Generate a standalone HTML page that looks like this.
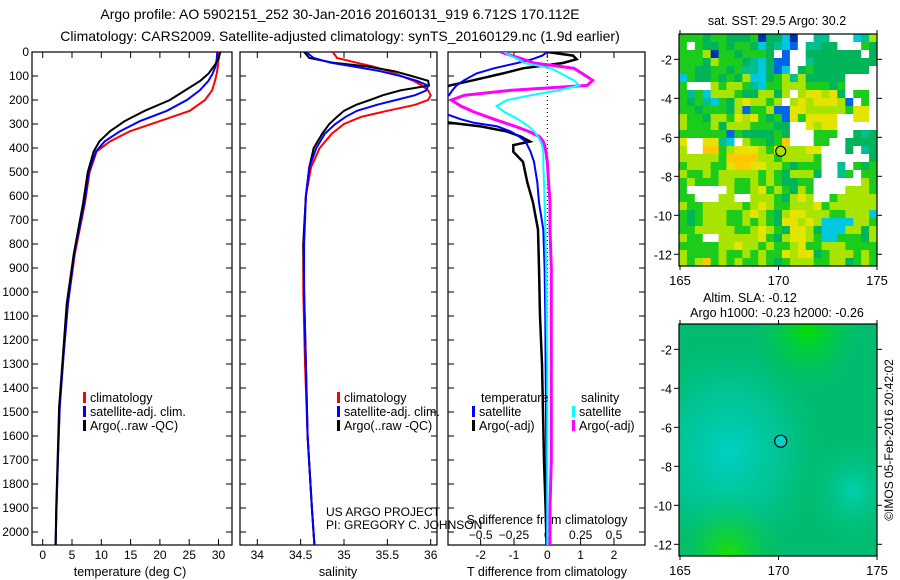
<!DOCTYPE html>
<html><head><meta charset="utf-8"><style>
html,body{margin:0;padding:0;background:#fff;}
svg{display:block;font-family:"Liberation Sans",sans-serif;}
text{fill:#000;}
</style></head><body>
<svg id="fig" width="900" height="580" viewBox="0 0 900 580" xmlns="http://www.w3.org/2000/svg">
<defs>
<clipPath id="c1"><rect x="32" y="52" width="200" height="493"/></clipPath>
<clipPath id="c2"><rect x="240" y="52" width="197" height="493"/></clipPath>
<clipPath id="c3"><rect x="448" y="52" width="197" height="493"/></clipPath>
<radialGradient id="gA" cx="0.25" cy="0.55" r="0.5"><stop offset="0" stop-color="#00d0c4"/><stop offset="0.6" stop-color="#00c8a0" stop-opacity="0.6"/><stop offset="1" stop-color="#00c070" stop-opacity="0"/></radialGradient>
<radialGradient id="gB" cx="0.88" cy="0.72" r="0.25"><stop offset="0" stop-color="#00d0b0"/><stop offset="1" stop-color="#00c070" stop-opacity="0"/></radialGradient>
<radialGradient id="gC" cx="0.65" cy="0.02" r="0.3"><stop offset="0" stop-color="#00e000"/><stop offset="1" stop-color="#00c070" stop-opacity="0"/></radialGradient>
<radialGradient id="gD" cx="0.25" cy="1" r="0.3"><stop offset="0" stop-color="#20e000"/><stop offset="1" stop-color="#00c070" stop-opacity="0"/></radialGradient>
</defs>
<text x="340" y="19" font-size="14" text-anchor="middle">Argo profile: AO 5902151_252 30-Jan-2016 20160131_919 6.712S 170.112E</text>
<text x="340" y="41" font-size="14" text-anchor="middle">Climatology: CARS2009. Satellite-adjusted climatology: synTS_20160129.nc (1.9d earlier)</text>
<g id="g1"></g>
<g id="g2"></g>
<g id="g3"></g>
<g id="m1"></g>
<g id="m2"></g>
<text transform="translate(893,440) rotate(-90)" font-size="12" text-anchor="middle">©IMOS 05-Feb-2016 20:42:02</text>
</svg>
<script>
const NS="http://www.w3.org/2000/svg";
// ---- data ----
const tDepth=[0,30,60,90,120,160,200,245,288,330,372,414,500,630,840,1050,1250,1480,1700,1900,2060];
const tempClim=[30.1,30.0,29.9,29.7,29.4,28.9,27.7,25.1,20.0,14.9,11.5,9.2,8.0,7.2,5.5,4.3,3.6,2.9,2.6,2.35,2.2];
const tempSat=[29.8,29.7,29.5,29.0,28.3,26.8,24.6,21.2,16.6,13.2,10.6,9.1,7.9,7.1,5.4,4.3,3.6,2.9,2.6,2.35,2.2];
const tempArgo=[30.3,30.0,29.2,28.3,26.9,24.3,21.7,17.4,14.0,11.5,9.7,8.7,7.7,6.9,5.3,4.1,3.5,2.8,2.55,2.3,2.2];
const sDepth=[0,25,45,60,80,100,120,140,160,180,200,220,245,270,300,340,400,480,600,800,1000,1300,1600,1900,2060];
const salClim=[34.87,34.92,35.15,35.33,35.52,35.66,35.8,35.9,35.97,36.0,35.97,35.82,35.5,35.2,35.0,34.86,34.72,34.62,34.56,34.53,34.53,34.55,34.58,34.63,34.66];
const salArgo=[34.54,34.6,34.88,35.26,35.58,35.78,35.97,35.98,35.65,35.45,35.3,35.14,35.0,34.92,34.83,34.75,34.65,34.6,34.56,34.53,34.54,34.56,34.58,34.63,34.66];
const salSat=[34.56,34.65,34.85,35.1,35.42,35.65,35.84,35.97,35.95,35.82,35.6,35.38,35.15,35.02,34.9,34.78,34.68,34.6,34.56,34.54,34.54,34.56,34.58,34.63,34.66];
const dDepth=[0,15,30,46,68,89,118,139,160,180,200,225,250,280,295,310,331,352,373,388,416,458,543,627,740,900,1100,1300,1500,1700,1900,2060];
const dTempArgo=[0,0.77,0.88,0.47,-0.73,-1.33,-2.23,-2.92,-3.3,-3.3,-3.3,-3.3,-3.3,-3.3,-2.92,-2.0,-1.22,-0.8,-0.52,-1.02,-1.02,-0.73,-0.6,-0.43,-0.28,-0.25,-0.22,-0.16,-0.13,-0.1,-0.05,-0.02];
const dTempSat=[0,-0.15,-0.45,-0.9,-1.6,-2.12,-2.5,-2.72,-2.85,-2.95,-3.2,-3.2,-3.2,-2.6,-2.2,-1.5,-1.1,-0.85,-0.65,-0.6,-0.5,-0.4,-0.3,-0.25,-0.12,-0.08,-0.06,-0.05,-0.04,-0.03,-0.02,0];
const dSalArgo=[-0.35,-0.27,-0.18,-0.1,0.2,0.26,0.34,0.3,-0.28,-0.62,-0.72,-0.65,-0.55,-0.4,-0.32,-0.24,-0.14,-0.06,-0.03,-0.02,-0.01,0,0.01,0.02,0.02,0.03,0.03,0.03,0.03,0.03,0.02,0.02];
const dSalSat=[-0.32,-0.28,-0.22,-0.17,0.03,0.1,0.2,0.24,0.08,-0.12,-0.3,-0.38,-0.32,-0.22,-0.18,-0.14,-0.1,-0.07,-0.05,-0.04,-0.03,-0.03,-0.025,-0.02,-0.015,-0.01,-0.005,0,0,0,0,0];
const depthTicks=[0,100,200,300,400,500,600,700,800,900,1000,1100,1200,1300,1400,1500,1600,1700,1800,1900,2000];
const tempTicks=[0,5,10,15,20,25,30];
const salTicks=[34,34.5,35,35.5,36];
const salTickLabels=["34","34.5","35","35.5","36"];
const dTTicks=[-2,-1,0,1,2];
const dSTicks=[-0.5,-0.25,0,0.25,0.5];
const dSTickLabels=["−0.5","−0.25","0","0.25","0.5"];
const latTicks=[-2,-4,-6,-8,-10,-12];
const lonTicks=[165,170,175];
const floatLon=170.112, floatLat=-6.712;
const sstRows=[
"gggdggdddgnddcnwwttwwwctl","gwgddgdggdcdtcbwttddwwwgd","ggglnggdgggdwbwwdddddddwd","gggdlgggdtcdbbwwtdddddddd",
"ggddggdgttcdbcwdgdddddddw","cgddgdgdlccdgltldddddwwww","gwwwlgllgtcgglllgggdgwwww","gtgclllgddlldlwlyylydwggw",
"gdgtcgdlyllglwlylyyylbwgw","ggdgggdlbgglbbyylllllgyyw","lggdllgylygdgbygyyyywwyyw","lgggldlllgggddwwylyywwwww",
"ggggggbgddddgdwwwgggwwdtd","ywwyytcwlggdgowwwggwwdddd","lwwooglyyylgylllyywwwdwtd","lllllgoooollgllllgwwwwwwd",
"glllggyooyyllgdgggwwtwgdg","lgglglllllglgdllldwwtgwgg","glgggllgglglgddggwwwwwwlg","gwwwwwlgglyglgdlgwwwwlllg",
"ggwwwllwwlllgdlylwwglllll","lgglllllglylgglllygllllll","gdglllgglylgdlyylllgglllc","gdglllgglglgdyylylccccllg",
"gglllllgglylgdyyldccclldl","lggwwlllllygdlyylgccgggdl","gggggllyllglgglygglllgggg","lgggglgglglggylyydglllglg",
"lgloglglgglgdglllgglldglg"];
const sstColors={g:"#1ccc1c",d:"#00b45a",l:"#a8e400",y:"#e4e400",o:"#ffc800",t:"#00c090",c:"#00c8e0",b:"#0064e6",n:"#0030b4",w:"#ffffff"};
// ---- helpers ----
function el(tag,attrs,parent){const e=document.createElementNS(NS,tag);for(const k in attrs)e.setAttribute(k,attrs[k]);parent.appendChild(e);return e;}
function txt(s,attrs,parent){const e=el("text",attrs,parent);e.textContent=s;return e;}
const Y0=52, DY=0.24;
const yD=d=>Y0+d*DY;
const xT=v=>42.7+v*5.86;
const xS=v=>257.3+(v-34)*86.7;
const xDT=v=>547.3+v*33.33;
const xDS=v=>547.3+v*133.3;
function line(g,xs,ys,xf,col,w,name,clip){
  const p=xs.map((v,i)=>(i?"L":"M")+xf(v).toFixed(1)+" "+yD(ys[i]).toFixed(1)).join(" ");
  const e=el("path",{d:p,fill:"none",stroke:col,"stroke-width":w,"clip-path":"url(#"+clip+")"},g);
  
  
}
function frame(g,x0,x1,name){
  const r=el("rect",{x:x0,y:Y0,width:x1-x0,height:493,fill:"none",stroke:"#000","stroke-width":1.2},g);
  
  
  depthTicks.forEach(d=>{el("line",{x1:x0,x2:x0+6,y1:yD(d),y2:yD(d),stroke:"#000"},g);el("line",{x1:x1-6,x2:x1,y1:yD(d),y2:yD(d),stroke:"#000"},g);});
}
function xticks(g,vals,labels,xf,ylab){
  vals.forEach((v,i)=>{el("line",{x1:xf(v),x2:xf(v),y1:545,y2:539,stroke:"#000"},g);el("line",{x1:xf(v),x2:xf(v),y1:Y0,y2:Y0+6,stroke:"#000"},g);
    const t=txt(labels[i],{x:xf(v),y:ylab,"font-size":12,"text-anchor":"middle"},g);
    
    });
}
function legend(g,x,y,items){
  items.forEach((it,i)=>{el("rect",{x:x,y:y+i*14-6,width:3,height:11,fill:it[1]},g);
    const t=txt(it[0],{x:x+7,y:y+i*14+4,"font-size":12.5},g);
    
    });
}
// ---- panel 1 ----
const g1=document.getElementById("g1");
frame(g1,32,232,"temperature-axes");
depthTicks.forEach(d=>{const t=txt(String(d),{x:29,y:yD(d)+4,"font-size":12,"text-anchor":"end"},g1);
  
  });
xticks(g1,tempTicks,tempTicks.map(String),xT,559);
txt("temperature (deg C)",{x:130,y:576,"font-size":12.5,"text-anchor":"middle",},g1);
line(g1,tempClim,tDepth,xT,"#ff0000",2,"temp-climatology","c1");
line(g1,tempSat,tDepth,xT,"#0000ff",2,"temp-satellite","c1");
line(g1,tempArgo,tDepth,xT,"#000000",2,"temp-argo","c1");
legend(g1,83,398,[["climatology","#ff0000"],["satellite-adj. clim.","#0000ff"],["Argo(..raw -QC)","#000"]]);
// ---- panel 2 ----
const g2=document.getElementById("g2");
frame(g2,240,437,"salinity-axes");
xticks(g2,salTicks,salTickLabels,xS,559);
txt("salinity",{x:338,y:576,"font-size":12.5,"text-anchor":"middle",},g2);
line(g2,salClim,sDepth,xS,"#ff0000",2,"sal-climatology","c2");
line(g2,salArgo,sDepth,xS,"#000000",2,"sal-argo","c2");
line(g2,salSat,sDepth,xS,"#0000ff",2,"sal-satellite","c2");
legend(g2,337,398,[["climatology","#ff0000"],["satellite-adj. clim.","#0000ff"],["Argo(..raw -QC)","#000"]]);
txt("US ARGO PROJECT",{x:326,y:516,"font-size":12,},g2);
txt("PI: GREGORY C. JOHNSON",{x:326,y:529,"font-size":12,},g2);
// ---- panel 3 ----
const g3=document.getElementById("g3");
frame(g3,448,645,"difference-axes");
xticks(g3,dTTicks,dTTicks.map(String),xDT,559);
dSTicks.forEach((v,i)=>{const t=txt(dSTickLabels[i],{x:xDS(v),y:539,"font-size":12,"text-anchor":"middle"},g3);
  
  });
txt("S difference from climatology",{x:547,y:524,"font-size":12.5,"text-anchor":"middle",},g3);
txt("T difference from climatology",{x:547,y:576,"font-size":12.5,"text-anchor":"middle",},g3);
el("line",{x1:xDT(0),x2:xDT(0),y1:Y0,y2:545,stroke:"#000","stroke-dasharray":"1 3",},g3);
line(g3,dTempArgo,dDepth,xDT,"#000000",2.5,"tdiff-argo","c3");
line(g3,dTempSat,dDepth,xDT,"#0000ff",2,"tdiff-satellite","c3");
line(g3,dSalArgo,dDepth,xDS,"#ff00ff",3,"sdiff-argo","c3");
line(g3,dSalSat,dDepth,xDS,"#00ffff",2,"sdiff-satellite","c3");
txt("temperature",{x:481,y:402,"font-size":12.5,},g3);
txt("salinity",{x:581,y:402,"font-size":12.5,},g3);
legend(g3,472,412,[["satellite","#0000ff"],["Argo(-adj)","#000"]]);
legend(g3,572,412,[["satellite","#00ffff"],["Argo(-adj)","#ff00ff"]]);
// ---- maps ----
function mapAxes(g,top,bot,latTop,latBot){
  const xL=v=>680+(v-165)*19.7;
  const yL=v=>top+(latTop-v)*(bot-top)/(latTop-latBot);
  const r=el("rect",{x:679,y:top,width:198,height:bot-top,fill:"none",stroke:"#000","stroke-width":1.2},g);
  
  
  latTicks.forEach(v=>{el("line",{x1:674,x2:679,y1:yL(v),y2:yL(v),stroke:"#000"},g);el("line",{x1:877,x2:882,y1:yL(v),y2:yL(v),stroke:"#000"},g);
    const t=txt(String(v),{x:672,y:yL(v)+5,"font-size":12.5,"text-anchor":"end"},g);
    
    });
  lonTicks.forEach(v=>{el("line",{x1:xL(v),x2:xL(v),y1:bot,y2:bot+4,stroke:"#000"},g);el("line",{x1:xL(v),x2:xL(v),y1:top-4,y2:top,stroke:"#000"},g);
    const t=txt(String(v),{x:xL(v),y:bot+19,"font-size":13,"text-anchor":"middle"},g);
    
    });
  return [xL,yL];
}
const m1=document.getElementById("m1");
const nR=sstRows.length, nC=sstRows[0].length;
const cw=198/nC, ch=232/nR;
sstRows.forEach((row,i)=>{for(let j=0;j<nC;j++){
  const c=el("rect",{x:(679+j*cw).toFixed(2),y:(34+i*ch).toFixed(2),width:(cw+0.4).toFixed(2),height:(ch+0.4).toFixed(2),fill:sstColors[row[j]]},m1);
  
  }});
const a1=mapAxes(m1,34,266,-0.7,-12.6);
txt("sat. SST: 29.5 Argo: 30.2",{x:777,y:25,"font-size":12.5,"text-anchor":"middle",},m1);
el("circle",{cx:a1[0](floatLon),cy:a1[1](floatLat),r:5,fill:"#a8e400",stroke:"#000","stroke-width":1.2,},m1);
const m2=document.getElementById("m2");
el("rect",{x:679,y:324,width:198,height:232,fill:"#00bc70",},m2);
["gA","gB","gC","gD"].forEach(id=>el("rect",{x:679,y:324,width:198,height:232,fill:"url(#"+id+")"},m2));
const a2=mapAxes(m2,324,556,-0.7,-12.6);
txt("Altim. SLA: -0.12",{x:750,y:302,"font-size":12.5,"text-anchor":"middle",},m2);
txt("Argo h1000: -0.23 h2000: -0.26",{x:777,y:317,"font-size":12.5,"text-anchor":"middle",},m2);
el("circle",{cx:a2[0](floatLon),cy:a2[1](floatLat),r:6,fill:"#00d0d0",stroke:"#000","stroke-width":1.2,},m2);
</script>
</body></html>
